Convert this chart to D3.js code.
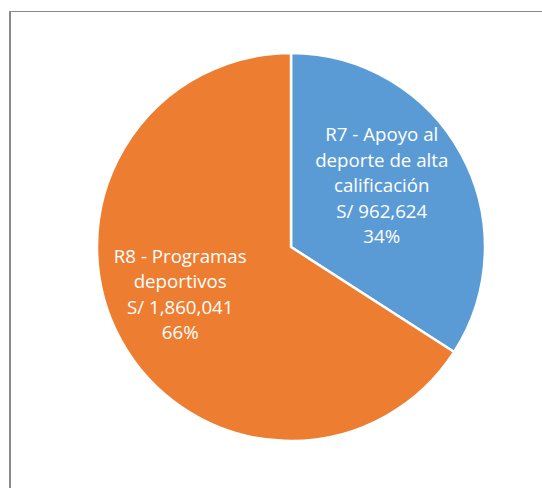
<!DOCTYPE html>
<html>
<head>
<meta charset="utf-8">
<script src="https://cdn.jsdelivr.net/npm/d3@7"></script>
<style>
  body { margin: 0; background: #fff; }
  svg { display: block; }
  .lbl { font-family: "Open Sans", sans-serif; font-size: 18.7px; fill: #fff; }
</style>
</head>
<body>
<div id="chart"></div>
<script>
// datos
var categories = ['R7 - Apoyo al deporte de alta calificación', 'R8 - Programas deportivos'];
var values = [962624, 1860041];
var labelLines = [
  ['R7 - Apoyo al', 'deporte de alta', 'calificación', 'S/ 962,624', '34%'],
  ['R8 - Programas', 'deportivos', 'S/ 1,860,041', '66%']
];
var colors = ['#5B9BD5', '#ED7D31'];

var W = 542, H = 488;
var svg = d3.select('#chart').append('svg').attr('width', W).attr('height', H);

// marco
svg.append('line').attr('x1', 10).attr('y1', 11).attr('x2', 10).attr('y2', H)
  .attr('stroke', '#8a8a8a').attr('stroke-width', 2);
svg.append('line').attr('x1', 9).attr('y1', 11.5).attr('x2', W).attr('y2', 11.5)
  .attr('stroke', '#8a8a8a').attr('stroke-width', 1);

var cx = 291, cy = 247, r = 194;
var g = svg.append('g').attr('transform', 'translate(' + cx + ',' + cy + ')');

var pie = d3.pie().sort(null).value(function (d) { return d; });
var arcs = pie(values);
var arc = d3.arc().innerRadius(0).outerRadius(r);

g.selectAll('path')
  .data(arcs)
  .enter()
    .append('path')
    .attr('d', arc)
    .attr('fill', function (d, i) { return colors[i]; })
    .attr('stroke', '#fff')
    .attr('stroke-width', 2.5)
    .attr('stroke-linejoin', 'round');

// etiquetas (posición un poco ajustada como en Excel)
var labelArc = d3.arc().innerRadius(r * 0.58).outerRadius(r * 0.58);
var nudge = [[-8, -8], [-12, -7]];
var lineH = 25.5;
arcs.forEach(function (d, i) {
  var c = labelArc.centroid(d);
  var lines = labelLines[i];
  var t = g.append('text').attr('class', 'lbl').attr('text-anchor', 'middle');
  lines.forEach(function (s, j) {
    t.append('tspan')
      .attr('x', c[0] + nudge[i][0])
      .attr('y', c[1] + nudge[i][1] + (j - (lines.length - 1) / 2) * lineH + 7)
      .text(s);
  });
});
</script>
</body>
</html>
